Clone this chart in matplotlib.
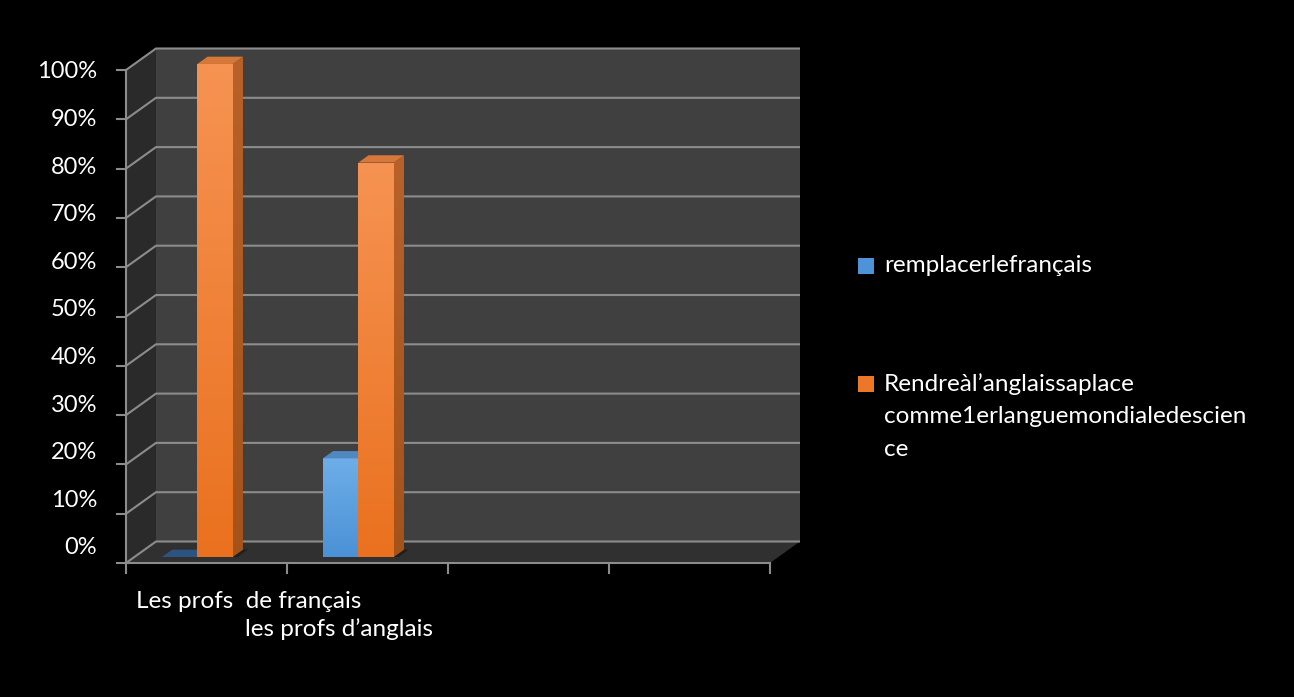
import numpy as np
import matplotlib
matplotlib.use("Agg")
import matplotlib.pyplot as plt
from matplotlib.patches import Polygon
from matplotlib.colors import LinearSegmentedColormap

# ---- data -------------------------------------------------------------
categories = ["Les profs  de français", "les profs d’anglais"]
series_names = ["remplacerlefrançais",
                "Rendreàl’anglaissaplace\ncomme1erlanguemondialedescien\nce"]
remplacer = [0, 20]
rendre = [100, 80]
y_ticks = [0, 10, 20, 30, 40, 50, 60, 70, 80, 90, 100]
y_tick_labels = ["0%", "10%", "20%", "30%", "40%", "50%",
                 "60%", "70%", "80%", "90%", "100%"]

# ---- layout -----------------------------------------------------------
W, H = 1294, 697
N_SLOTS = 4                 # category slots along the floor
X0_PX, SLOT_PX = 126, 161   # front axis origin / slot width (px)
Y0_PX, PCT_PX = 563, 4.93   # front 0% line / px per percent
DEPTH_PX = (30, 21.5)       # oblique offset of the back wall (px)

FONT = "Lato"
plt.rcParams["font.family"] = [FONT, "DejaVu Sans"]
TXT_SIZE = 17.5
TICK_SIZE = 17

fig = plt.figure(figsize=(W / 100, H / 100), dpi=100, facecolor="black")
ax = fig.add_axes([0, 0, 1, 1])
ax.set_facecolor("black")
ax.set_xlim(-X0_PX / SLOT_PX, (W - X0_PX) / SLOT_PX)
ax.set_ylim((Y0_PX - H) / PCT_PX, Y0_PX / PCT_PX)
ax.axis("off")

DX = DEPTH_PX[0] / SLOT_PX
DY = DEPTH_PX[1] / PCT_PX
YMAX = 100
GRID = "#8c8c8c"


def poly(pts, fc, z, ec="none", lw=0):
    p = Polygon(pts, closed=True, facecolor=fc, edgecolor=ec, lw=lw, zorder=z)
    ax.add_patch(p)
    return p


def gradient_poly(pts, c_top, c_bot, z):
    p = poly(pts, "none", z)
    xs = [q[0] for q in pts]
    ys = [q[1] for q in pts]
    cmap = LinearSegmentedColormap.from_list("g", [c_bot, c_top])
    grad = np.linspace(0, 1, 256).reshape(-1, 1)
    im = ax.imshow(grad, cmap=cmap, origin="lower", aspect="auto",
                   extent=(min(xs), max(xs), min(ys), max(ys)), zorder=z)
    im.set_clip_path(p)


# walls and floor
poly([(0, 0), (0, YMAX), (DX, YMAX + DY), (DX, DY)], "#2a2a2a", 1)
poly([(DX, DY), (DX, YMAX + DY), (N_SLOTS + DX, YMAX + DY), (N_SLOTS + DX, DY)],
     "#404040", 1)
poly([(0, 0), (N_SLOTS, 0), (N_SLOTS + DX, DY), (DX, DY)], "#303030", 1)

# gridlines (side wall + back wall)
for v in y_ticks:
    ax.plot([0, DX, N_SLOTS + DX], [v, v + DY, v + DY], color=GRID, lw=1.5,
            zorder=2, solid_capstyle="butt")
    ax.plot([-9 / SLOT_PX, 0], [v, v], color=GRID, lw=1.5, zorder=2)

# front edges of the box
ax.plot([0, 0], [0, YMAX], color=GRID, lw=1.5, zorder=2)
ax.plot([0, N_SLOTS], [0, 0], color=GRID, lw=1.5, zorder=2)
for k in range(N_SLOTS + 1):
    ax.plot([k, k], [0, -10 / PCT_PX], color=GRID, lw=1.5, zorder=2)

# y tick labels (spaced evenly a little above the front ticks)
lab_lo, lab_hi = 15 / PCT_PX, (Y0_PX - 72) / PCT_PX
for v, t in zip(y_ticks, y_tick_labels):
    yy = lab_lo + (lab_hi - lab_lo) * v / YMAX
    ax.text(-29 / SLOT_PX, yy, t, color="white", fontsize=TICK_SIZE,
            ha="right", va="center")

# ---- 3-D columns -------------------------------------------------------
BAR_W = 0.22
GROUP_START = 0.171
D0, D1 = 0.28, 0.62
styles = [
    dict(top="#5288c2", front=("#6eaee8", "#4b91d6"), side=("#3f6fa3", "#34608f")),
    dict(top="#d6783a", front=("#f69352", "#ea711f"), side=("#b8622a", "#a4531a")),
]
series_vals = [remplacer, rendre]

z = 5
for i in range(len(categories)):
    for j, vals in enumerate(series_vals):
        v = vals[i]
        st = styles[j]
        xl = i + GROUP_START + j * BAR_W
        xr = xl + BAR_W
        fx0, fx1 = xl + D0 * DX, xr + D0 * DX
        fy0 = D0 * DY
        bx1 = xr + D1 * DX
        by0 = D1 * DY
        # soft shadow on the floor
        poly([(fx1, fy0), (bx1, by0), (bx1 + 0.03, by0), (fx1 + 0.03, fy0)],
             "#1f1f1f", z)
        if v > 0:
            gradient_poly([(fx0, fy0), (fx1, fy0), (fx1, fy0 + v), (fx0, fy0 + v)],
                          st["front"][0], st["front"][1], z + 1)
            gradient_poly([(fx1, fy0), (bx1, by0), (bx1, by0 + v), (fx1, fy0 + v)],
                          st["side"][0], st["side"][1], z + 1)
        top_col = st["top"] if v > 0 else "#2d5480"
        poly([(fx0, fy0 + v), (fx1, fy0 + v), (bx1, by0 + v),
              (xl + D1 * DX, by0 + v)], top_col, z + 1)
        z += 2

# ---- category labels -----------------------------------------------------
ax.text((136 - X0_PX) / SLOT_PX, (Y0_PX - 601) / PCT_PX, categories[0],
        color="white", fontsize=TXT_SIZE, ha="left", va="center")
ax.text((245 - X0_PX) / SLOT_PX, (Y0_PX - 629) / PCT_PX, categories[1],
        color="white", fontsize=TXT_SIZE, ha="left", va="center")

# ---- legend ---------------------------------------------------------------
leg_cols = ["#4e92d8", "#ed7628"]
leg_rows = [266, 384]       # centre of each entry's first line (px)
LINE_PX = 32.5
for name, col, row in zip(series_names, leg_cols, leg_rows):
    sx = (858 - X0_PX) / SLOT_PX
    sy = (Y0_PX - row - 8) / PCT_PX
    poly([(sx, sy), (sx + 16 / SLOT_PX, sy), (sx + 16 / SLOT_PX, sy + 16 / PCT_PX),
          (sx, sy + 16 / PCT_PX)], col, 3)
    lines = name.split("\n")
    for k, line in enumerate(lines):
        ax.text((884 - X0_PX) / SLOT_PX, (Y0_PX - row - k * LINE_PX) / PCT_PX,
                line, color="white", fontsize=TXT_SIZE, ha="left", va="center")

fig.savefig("out.png", dpi=100, facecolor="black")
